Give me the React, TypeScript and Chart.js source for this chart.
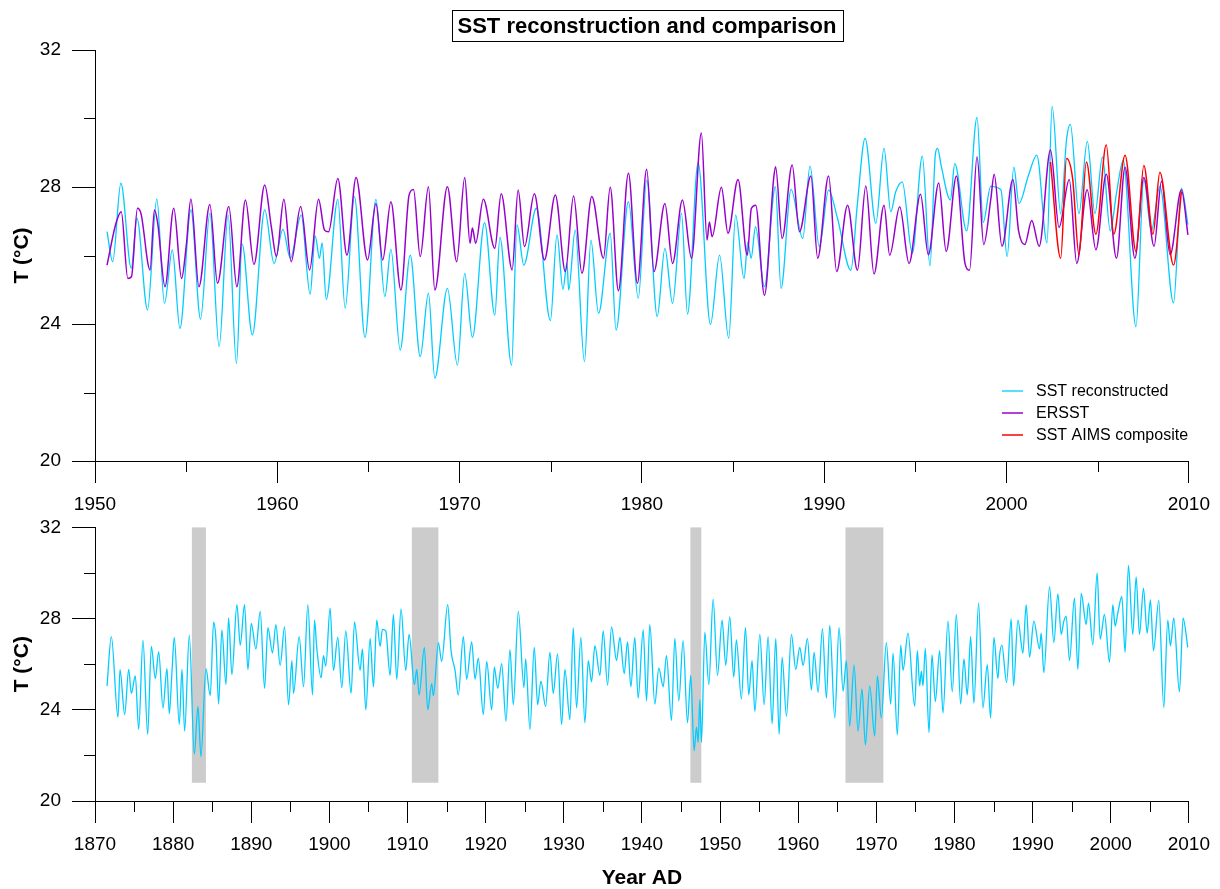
import React, { useEffect, useRef } from "react";
import { Chart, registerables } from "chart.js";

Chart.register(...registerables);

const FONT = '"Liberation Sans", Arial, Helvetica, sans-serif';
const TITLE = "SST reconstruction and comparison";
const Y_TITLE = "T (°C)";
const X_TITLE = "Year AD";

// ---- Top panel: SST reconstructed (1950-2010) ----
const reconYears = [
  1950.66, 1950.97, 1951.42, 1951.99, 1952.3, 1952.88, 1953.39, 1953.81, 1954.24, 1954.66,
  1955.26, 1955.79, 1956.3, 1956.81, 1957.3, 1957.76, 1958.07, 1958.63, 1959.31, 1959.82,
  1960.31, 1960.71, 1961.31, 1961.8, 1962.08, 1962.31, 1962.46, 1962.68, 1963.32, 1963.72,
  1964.23, 1964.81, 1965.41, 1965.9, 1966.23, 1966.74, 1967.29, 1967.84, 1968.29, 1968.64,
  1969.33, 1969.88, 1970.28, 1970.7, 1971.37, 1971.93, 1972.21, 1972.85, 1973.15, 1973.52,
  1974.21, 1974.98, 1975.34, 1975.67, 1975.89, 1975.98, 1976.34, 1976.85, 1977.2, 1977.62,
  1978.26, 1978.58, 1979.26, 1979.8, 1980.26, 1980.84, 1981.26, 1981.68, 1982.17, 1982.5,
  1983.08, 1983.76, 1984.26, 1984.76, 1985.14, 1985.6, 1985.81, 1985.99, 1986.23, 1986.72,
  1987.32, 1987.63, 1988.18, 1988.82, 1989.22, 1989.73, 1990.24, 1990.73, 1991.46, 1991.82,
  1992.24, 1992.83, 1993.28, 1993.65, 1993.92, 1994.28, 1994.83, 1995.38, 1995.8, 1996.1,
  1996.22, 1996.41, 1996.92, 1997.16, 1997.81, 1998.38, 1998.72, 1999.13, 1999.69, 2000.03,
  2000.4, 2000.68, 2001.19, 2001.66, 2002.22, 2002.5, 2002.97, 2003.29, 2003.5, 2003.97,
  2004.43, 2004.85, 2005.26, 2005.69, 2006.03, 2006.4, 2007.1, 2007.53, 2007.94, 2008.41,
  2009.16, 2009.59, 2009.95,
];
const reconTemps = [
  26.7, 25.82, 28.11, 25.63, 27.09, 24.41, 27.65, 24.6, 26.16, 23.87,
  27.33, 24.14, 27.23, 23.34, 27.18, 22.85, 26.34, 23.68, 27.33, 25.77,
  26.76, 25.92, 27.18, 24.87, 26.57, 25.92, 26.37, 24.72, 27.64, 24.46,
  27.72, 23.61, 27.64, 24.8, 26.18, 23.24, 26.01, 23.05, 24.9, 22.41,
  25.04, 22.8, 25.48, 23.61, 26.96, 24.26, 26.53, 22.8, 26.89, 25.72,
  27.38, 24.1, 26.6, 25.01, 25.79, 24.99, 26.74, 22.9, 26.45, 24.31,
  26.65, 23.82, 27.57, 24.75, 28.2, 24.22, 26.21, 24.6, 27.23, 24.29,
  28.71, 23.99, 26.01, 23.58, 27.18, 25.33, 26.4, 25.92, 26.84, 25.09,
  28.01, 25.04, 27.93, 26.5, 28.61, 26.26, 27.91, 27.08, 25.57, 27.52,
  29.42, 26.94, 29.13, 27.28, 27.86, 28.15, 26.06, 28.9, 25.7, 28.98,
  29.13, 28.63, 27.62, 28.68, 26.72, 30.03, 26.97, 28.02, 27.92, 25.97,
  28.58, 27.52, 28.32, 28.93, 26.37, 30.35, 27.22, 29.38, 29.83, 27.22,
  29.33, 27.22, 28.88, 26.72, 27.82, 28.78, 23.92, 28.22, 26.72, 28.02,
  24.62, 27.97, 26.9,
];

// ---- Top panel: ERSST ----
const ersstYears = [
  1950.66, 1951.15, 1951.44, 1951.8, 1952.0, 1952.33, 1952.52, 1953.02, 1953.26, 1953.44,
  1953.84, 1954.32, 1954.75, 1955.0, 1955.26, 1955.7, 1956.3, 1956.72, 1957.34, 1957.78,
  1958.25, 1958.72, 1959.31, 1959.67, 1959.95, 1960.36, 1960.76, 1961.28, 1961.77, 1962.26,
  1962.59, 1962.81, 1963.32, 1963.82, 1964.32, 1964.95, 1965.41, 1965.78, 1966.23, 1966.78,
  1967.23, 1967.47, 1967.84, 1968.29, 1968.64, 1969.33, 1969.84, 1970.28, 1970.57, 1970.7,
  1970.88, 1971.3, 1971.93, 1972.28, 1972.88, 1973.21, 1973.56, 1974.1, 1974.65, 1975.25,
  1975.8, 1976.25, 1976.71, 1977.25, 1977.89, 1978.26, 1978.71, 1979.26, 1979.75, 1980.26,
  1980.66, 1981.26, 1981.68, 1982.22, 1982.72, 1983.26, 1983.57, 1983.7, 1983.85, 1984.36,
  1984.72, 1985.27, 1985.78, 1986.0, 1986.24, 1986.72, 1987.22, 1987.33, 1987.69, 1988.24,
  1988.64, 1989.27, 1989.64, 1990.24, 1990.68, 1991.28, 1991.82, 1992.28, 1992.73, 1993.28,
  1993.59, 1994.14, 1994.65, 1995.28, 1995.71, 1996.28, 1996.69, 1997.25, 1997.72, 1997.97,
  1998.38, 1998.75, 1999.13, 1999.32, 1999.75, 2000.35, 2000.66, 2001.0, 2001.38, 2001.79,
  2002.41, 2002.88, 2003.44, 2003.85, 2004.42, 2004.9, 2005.47, 2006.03, 2006.5, 2007.04,
  2007.53, 2008.09, 2008.5, 2008.97, 2009.59, 2009.95,
];
const ersstTemps = [
  25.72, 26.94, 27.28, 25.33, 25.38, 27.38, 27.23, 25.58, 27.33, 26.94,
  25.09, 27.38, 25.33, 26.26, 27.65, 25.09, 27.49, 25.19, 27.43, 25.09,
  27.62, 25.74, 28.06, 26.84, 25.97, 27.64, 25.82, 27.43, 25.58, 27.64,
  26.74, 26.69, 28.25, 26.01, 28.28, 25.87, 27.52, 25.87, 27.57, 24.99,
  27.77, 27.93, 25.97, 28.01, 24.99, 28.01, 25.82, 28.28, 26.36, 26.8,
  26.36, 27.64, 26.21, 27.8, 25.58, 27.91, 26.26, 27.8, 25.87, 27.77,
  25.53, 27.74, 25.48, 27.72, 25.92, 27.99, 24.97, 28.4, 25.19, 28.52,
  25.53, 27.52, 25.77, 27.62, 25.92, 29.58, 26.45, 26.98, 26.55, 27.99,
  26.65, 28.22, 26.01, 27.37, 27.47, 24.84, 28.22, 28.59, 26.5, 28.64,
  26.69, 28.32, 25.92, 28.32, 25.53, 27.47, 25.57, 28.03, 25.46, 27.47,
  26.01, 27.42, 25.77, 27.79, 26.02, 28.12, 26.12, 28.32, 25.77, 25.57,
  28.88, 26.32, 27.62, 28.37, 26.27, 28.22, 26.72, 26.32, 27.02, 26.27,
  29.08, 26.82, 28.22, 25.77, 27.92, 26.17, 28.37, 25.92, 28.58, 25.92,
  28.28, 26.27, 28.17, 26.02, 27.92, 26.6,
];

// ---- Top panel: SST AIMS composite ----
const aimsYears = [
  2002.41, 2002.97, 2003.29, 2003.63, 2003.97, 2004.38, 2004.9, 2005.47, 2005.88, 2006.5,
  2007.1, 2007.53, 2008.03, 2008.41, 2009.16, 2009.59,
];
const aimsTemps = [
  28.73, 25.92, 28.83, 28.22, 26.02, 28.73, 26.62, 29.23, 26.62, 28.93,
  26.12, 28.63, 26.62, 28.43, 25.72, 27.87,
];

// ---- Bottom panel: SST reconstructed (1871-2010) ----
const longYears = [
  1871.54, 1872.09, 1872.94, 1873.2, 1873.8, 1874.31, 1874.65, 1875.16, 1875.59, 1876.14,
  1876.74, 1877.21, 1877.72, 1878.15, 1878.7, 1879.21, 1879.51, 1879.85, 1880.15, 1880.79,
  1881.13, 1881.47, 1882.07, 1882.71, 1883.18, 1883.56, 1884.2, 1884.75, 1885.18, 1885.48,
  1885.82, 1886.24, 1886.76, 1887.1, 1887.52, 1888.16, 1888.59, 1889.14, 1889.57, 1890.0,
  1890.59, 1891.15, 1891.7, 1892.13, 1892.72, 1893.15, 1893.7, 1894.26, 1894.77, 1895.2,
  1895.41, 1896.13, 1896.69, 1897.24, 1897.84, 1898.09, 1898.39, 1898.94, 1899.24, 1899.54,
  1900.09, 1900.52, 1901.07, 1901.59, 1902.1, 1902.78, 1903.21, 1903.93, 1904.23, 1904.66,
  1905.21, 1905.64, 1906.06, 1906.49, 1906.79, 1907.21, 1907.77, 1908.19, 1908.62, 1909.17,
  1909.77, 1910.2, 1910.88, 1911.18, 1911.48, 1912.16, 1912.58, 1913.1, 1913.31, 1913.95,
  1914.37, 1915.14, 1915.57, 1916.08, 1916.5, 1917.14, 1917.57, 1918.21, 1918.64, 1919.06,
  1919.7, 1920.13, 1920.77, 1921.11, 1921.54, 1922.05, 1922.6, 1923.11, 1923.54, 1924.18,
  1924.9, 1925.12, 1925.67, 1926.22, 1926.65, 1927.07, 1927.67, 1928.22, 1928.65, 1929.2,
  1929.72, 1930.14, 1930.78, 1931.21, 1931.63, 1932.19, 1932.7, 1933.13, 1933.55, 1933.98,
  1934.62, 1935.04, 1935.6, 1936.11, 1936.75, 1937.18, 1937.73, 1938.16, 1938.58, 1939.09,
  1939.52, 1940.16, 1940.59, 1941.01, 1941.65, 1942.16, 1942.72, 1943.14, 1943.78, 1944.21,
  1944.72, 1945.27, 1945.83, 1946.25, 1946.68, 1946.98, 1947.19, 1947.41, 1947.62, 1948.05,
  1948.56, 1949.11, 1949.67, 1950.26, 1950.73, 1951.24, 1951.75, 1952.09, 1952.73, 1953.25,
  1953.67, 1954.1, 1954.45, 1955.09, 1955.64, 1956.15, 1956.66, 1957.13, 1957.56, 1957.94,
  1958.5, 1959.13, 1959.69, 1960.2, 1960.63, 1961.18, 1961.69, 1962.03, 1962.55, 1963.1,
  1963.61, 1964.04, 1964.68, 1965.23, 1965.74, 1966.17, 1966.59, 1967.15, 1967.66, 1968.17,
  1968.6, 1969.15, 1969.79, 1970.13, 1970.64, 1971.28, 1971.84, 1972.14, 1972.69, 1973.12,
  1973.42, 1974.05, 1974.91, 1975.25, 1975.55, 1975.76, 1975.97, 1976.27, 1976.74, 1977.12,
  1977.55, 1978.1, 1978.53, 1979.17, 1979.72, 1980.24, 1980.79, 1981.21, 1981.64, 1982.07,
  1982.49, 1983.09, 1983.64, 1984.2, 1984.62, 1985.05, 1985.56, 1985.77, 1986.07, 1986.67,
  1987.26, 1987.56, 1988.12, 1988.76, 1989.18, 1989.61, 1990.16, 1990.89, 1991.1, 1991.44,
  1992.17, 1992.72, 1993.23, 1993.66, 1994.0, 1994.3, 1994.72, 1995.36, 1995.79, 1996.22,
  1996.86, 1997.15, 1997.71, 1998.26, 1998.65, 1999.2, 1999.84, 2000.27, 2000.56, 2000.91,
  2001.42, 2001.84, 2002.27, 2002.82, 2003.25, 2003.68, 2004.19, 2004.66, 2005.08, 2005.47,
  2006.15, 2006.79, 2007.3, 2007.64, 2008.07, 2008.79, 2009.26, 2009.86,
];
const longTemps = [
  25.05, 27.21, 23.67, 25.76, 23.79, 25.77, 24.72, 25.49, 23.14, 27.05,
  22.92, 26.78, 25.37, 26.55, 24.08, 25.8, 23.83, 25.66, 27.17, 23.36,
  25.77, 23.07, 27.27, 22.06, 24.15, 21.95, 25.8, 24.62, 27.84, 27.07,
  24.25, 27.5, 25.11, 28.03, 25.54, 28.61, 26.84, 28.61, 25.76, 27.79,
  26.67, 28.32, 24.94, 27.6, 26.49, 27.74, 25.95, 27.64, 24.22, 26.16,
  24.72, 27.21, 25.01, 28.61, 24.65, 27.93, 26.69, 25.4, 26.38, 25.92,
  28.46, 25.73, 27.17, 24.97, 27.46, 24.72, 27.86, 25.73, 26.67, 24.0,
  27.13, 25.01, 27.93, 26.78, 27.53, 27.46, 25.51, 28.18, 25.34, 28.42,
  25.73, 27.31, 25.11, 25.77, 24.65, 26.74, 24.0, 25.15, 24.62, 26.95,
  26.12, 28.61, 26.59, 25.73, 24.65, 27.21, 25.34, 26.98, 25.34, 26.26,
  23.79, 26.12, 24.0, 25.87, 24.94, 26.02, 23.5, 26.64, 24.22, 28.32,
  24.97, 26.23, 23.14, 26.74, 24.22, 25.26, 24.15, 26.52, 24.72, 26.45,
  23.36, 25.77, 23.57, 27.6, 24.08, 27.17, 23.43, 26.16, 25.23, 26.81,
  25.51, 27.46, 25.08, 27.64, 26.16, 27.17, 25.59, 26.98, 25.01, 27.17,
  24.51, 27.5, 24.39, 27.74, 24.25, 25.83, 25.01, 26.38, 23.53, 27.13,
  24.39, 27.03, 23.43, 25.51, 22.21, 23.24, 22.57, 24.44, 22.57, 27.41,
  25.11, 28.85, 25.51, 27.93, 25.95, 28.08, 25.44, 27.07, 24.48, 27.6,
  24.65, 26.16, 23.93, 27.31, 24.22, 27.21, 23.38, 27.13, 22.92, 26.31,
  23.72, 27.31, 25.77, 26.74, 25.95, 27.13, 24.87, 26.52, 24.77, 27.56,
  24.51, 27.7, 23.64, 27.6, 24.82, 26.16, 23.28, 25.97, 23.07, 24.91,
  22.46, 25.05, 22.85, 25.49, 23.64, 26.95, 24.25, 26.49, 22.9, 26.84,
  25.73, 27.36, 24.15, 26.59, 25.05, 25.69, 25.05, 26.69, 23.0, 26.41,
  24.36, 26.59, 23.86, 27.89, 24.79, 28.18, 24.25, 26.23, 24.65, 27.21,
  24.29, 28.68, 24.08, 25.98, 23.64, 27.17, 25.37, 26.38, 26.84, 25.2,
  27.99, 25.05, 27.93, 26.49, 28.61, 26.31, 27.89, 26.67, 27.36, 25.63,
  29.4, 26.95, 29.08, 27.31, 27.89, 28.1, 26.16, 28.9, 25.77, 29.11,
  27.74, 28.68, 26.84, 30.0, 27.1, 28.18, 26.09, 28.61, 27.67, 28.25,
  28.97, 26.52, 30.33, 27.31, 29.83, 27.31, 29.33, 27.36, 28.82, 26.59,
  28.8, 24.1, 27.93, 26.81, 28.03, 24.79, 28.02, 26.74,
];

// ---- Shaded periods (bottom panel) ----
const bandStarts = [1882.4, 1910.55, 1946.2, 1966.05];
const bandEnds = [1884.2, 1913.95, 1947.6, 1970.9];
const bandTopT = 32;
const bandBottomT = 20.8;

// ---- Ticks ----
const topXTicks = [1950, 1960, 1970, 1980, 1990, 2000, 2010];
const topXMinor = [1955, 1965, 1975, 1985, 1995, 2005];
const botXTicks = [1870, 1880, 1890, 1900, 1910, 1920, 1930, 1940, 1950, 1960, 1970, 1980, 1990, 2000, 2010];
const botXMinor = [1875, 1885, 1895, 1905, 1915, 1925, 1935, 1945, 1955, 1965, 1975, 1985, 1995, 2005];
const yTicks = [20, 24, 28, 32];
const yMinor = [22, 26, 30];

const CYAN = "#00ccff";
const PURPLE = "#9900cc";
const RED = "#ff0000";

function pts(xs: number[], ys: number[]) {
  return xs.map((x, i) => ({ x, y: ys[i] }));
}

function minorTicksPlugin(xMinor: number[], yMin: number[], len: number) {
  return {
    id: "minorTicks",
    afterDraw(chart: any) {
      const { ctx, chartArea } = chart;
      const x = chart.scales.x;
      const y = chart.scales.y;
      ctx.save();
      ctx.strokeStyle = "#000";
      ctx.lineWidth = 1;
      ctx.beginPath();
      xMinor.forEach((v) => {
        const px = Math.round(x.getPixelForValue(v)) + 0.5;
        ctx.moveTo(px, chartArea.bottom);
        ctx.lineTo(px, chartArea.bottom + len);
      });
      yMin.forEach((v) => {
        const py = Math.round(y.getPixelForValue(v)) + 0.5;
        ctx.moveTo(chartArea.left, py);
        ctx.lineTo(chartArea.left - len, py);
      });
      ctx.stroke();
      ctx.restore();
    },
  };
}

const boxedTitlePlugin = {
  id: "boxedTitle",
  afterDraw(chart: any) {
    const { ctx } = chart;
    ctx.save();
    ctx.font = `bold 22px ${FONT}`;
    const w = ctx.measureText(TITLE).width;
    const cx = 647;
    const left = Math.round(cx - w / 2 - 6) + 0.5;
    ctx.strokeStyle = "#000";
    ctx.lineWidth = 1;
    ctx.strokeRect(left, 10.5, Math.round(w + 12), 31);
    ctx.fillStyle = "#000";
    ctx.textAlign = "center";
    ctx.textBaseline = "middle";
    ctx.fillText(TITLE, cx, 27);
    ctx.restore();
  },
};

const legendPlugin = {
  id: "innerLegend",
  afterDraw(chart: any) {
    const { ctx } = chart;
    ctx.save();
    ctx.font = `16px ${FONT}`;
    ctx.textBaseline = "middle";
    ctx.textAlign = "left";
    chart.data.datasets.forEach((ds: any, i: number) => {
      const yy = 391 + i * 22;
      ctx.strokeStyle = ds.borderColor;
      ctx.lineWidth = ds.borderWidth;
      ctx.beginPath();
      ctx.moveTo(1002, yy);
      ctx.lineTo(1023, yy);
      ctx.stroke();
      ctx.fillStyle = "#000";
      ctx.fillText(ds.label, 1036, yy + 1);
    });
    ctx.restore();
  },
};

const bandsPlugin = {
  id: "bands",
  beforeDatasetsDraw(chart: any) {
    const { ctx } = chart;
    const x = chart.scales.x;
    const y = chart.scales.y;
    ctx.save();
    ctx.fillStyle = "#cccccc";
    const yt = y.getPixelForValue(bandTopT);
    const yb = y.getPixelForValue(bandBottomT);
    bandStarts.forEach((s, i) => {
      const x0 = x.getPixelForValue(s);
      const x1 = x.getPixelForValue(bandEnds[i]);
      ctx.fillRect(x0, yt, x1 - x0, yb - yt);
    });
    ctx.restore();
  },
};

function xScale(min: number, max: number, ticksArr: number[], tickLen: number, pad: number, height: number, title: any) {
  return {
    type: "linear" as const,
    position: "bottom" as const,
    min,
    max,
    afterBuildTicks: (s: any) => {
      s.ticks = ticksArr.map((v) => ({ value: v }));
    },
    afterFit: (s: any) => {
      s.height = height;
    },
    ticks: {
      font: { family: FONT, size: 19, lineHeight: 1.2 },
      color: "#000",
      padding: pad,
      maxRotation: 0,
      autoSkip: false,
      callback: (v: any) => String(v),
    },
    grid: { drawOnChartArea: false, drawTicks: true, tickLength: tickLen, color: "#000", lineWidth: 1 },
    border: { display: true, color: "#000", width: 1 },
    title,
  };
}

function yScale() {
  return {
    type: "linear" as const,
    position: "left" as const,
    min: 20,
    max: 32,
    afterBuildTicks: (s: any) => {
      s.ticks = yTicks.map((v) => ({ value: v }));
    },
    afterFit: (s: any) => {
      s.width = 95;
    },
    ticks: {
      font: { family: FONT, size: 19 },
      color: "#000",
      padding: 11,
      autoSkip: false,
      callback: (v: any) => String(v),
    },
    grid: { drawOnChartArea: false, drawTicks: true, tickLength: 23, color: "#000", lineWidth: 1 },
    border: { display: true, color: "#000", width: 1 },
    title: {
      display: true,
      text: Y_TITLE,
      color: "#000",
      font: { family: FONT, size: 21, weight: "bold" as const, lineHeight: 1 },
      padding: { top: 11.5, bottom: 0 },
    },
  };
}

const lineDefaults = {
  pointRadius: 0,
  fill: false,
  cubicInterpolationMode: "monotone" as const,
};

export default function App() {
  const topRef = useRef<HTMLCanvasElement>(null);
  const botRef = useRef<HTMLCanvasElement>(null);

  useEffect(() => {
    const top = new Chart(topRef.current as HTMLCanvasElement, {
      type: "line",
      data: {
        datasets: [
          { ...lineDefaults, label: "SST reconstructed", data: pts(reconYears, reconTemps), borderColor: CYAN, borderWidth: 1.3, order: 3 },
          { ...lineDefaults, label: "ERSST", data: pts(ersstYears, ersstTemps), borderColor: PURPLE, borderWidth: 1.5, order: 2 },
          { ...lineDefaults, label: "SST AIMS composite", data: pts(aimsYears, aimsTemps), borderColor: RED, borderWidth: 1.5, order: 1 },
        ],
      },
      options: {
        responsive: false,
        animation: false,
        events: [],
        layout: { padding: { top: 50, right: 29, bottom: 0, left: 0 } },
        plugins: { legend: { display: false }, tooltip: { enabled: false }, title: { display: false } },
        scales: {
          x: xScale(1950, 2010, topXTicks, 22, 10, 59, { display: false }),
          y: yScale(),
        },
      } as any,
      plugins: [minorTicksPlugin(topXMinor, yMinor, 11), boxedTitlePlugin, legendPlugin],
    });

    const bottom = new Chart(botRef.current as HTMLCanvasElement, {
      type: "line",
      data: {
        datasets: [
          { ...lineDefaults, label: "SST reconstructed", data: pts(longYears, longTemps), borderColor: CYAN, borderWidth: 1.3 },
        ],
      },
      options: {
        responsive: false,
        animation: false,
        events: [],
        layout: { padding: { top: 18, right: 29, bottom: 0, left: 0 } },
        plugins: { legend: { display: false }, tooltip: { enabled: false }, title: { display: false } },
        scales: {
          x: xScale(1870, 2010, botXTicks, 22, 10, 88, {
            display: true,
            text: X_TITLE,
            color: "#000",
            font: { family: FONT, size: 21, weight: "bold", lineHeight: 1 },
            padding: { top: 0, bottom: 0.5 },
          }),
          y: yScale(),
        },
      } as any,
      plugins: [bandsPlugin, minorTicksPlugin(botXMinor, yMinor, 11)],
    });

    return () => {
      top.destroy();
      bottom.destroy();
    };
  }, []);

  return (
    <div style={{ position: "fixed", left: 0, top: 0, width: 1220, height: 889, background: "#fff", overflow: "hidden" }}>
      <canvas ref={topRef} width={1220} height={520} style={{ position: "absolute", left: 0, top: 0, width: 1220, height: 520 }} />
      <canvas ref={botRef} width={1220} height={384} style={{ position: "absolute", left: 0, top: 505, width: 1220, height: 384 }} />
    </div>
  );
}
